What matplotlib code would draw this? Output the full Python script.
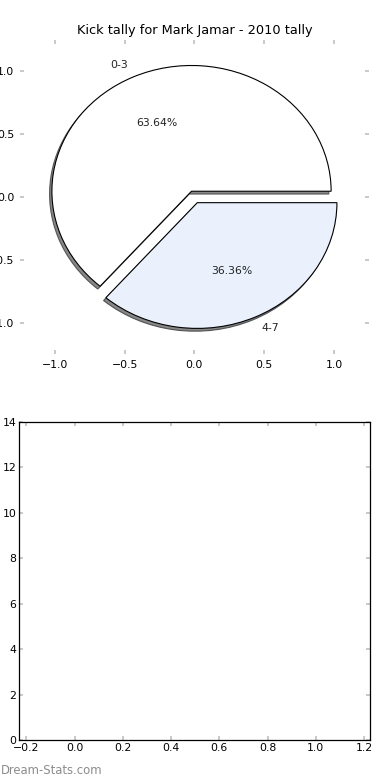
import matplotlib
matplotlib.use("Agg")
import matplotlib.pyplot as plt

# data
labels = ["0-3", "4-7"]
counts = [7, 4]          # 63.64% / 36.36%
colors = ["#ffffff", "#eaf0fc"]
explode = [0.05, 0.05]

TICK_GRAY = "#c0c0c0"

fig = plt.figure(figsize=(3.9, 7.8), dpi=100)

# --- pie (old-style: no equal aspect, frame off, limits +-1.25)
ax1 = fig.add_axes([0.051, 0.546, 0.895, 0.403])
wedges, texts, autotexts = ax1.pie(
    counts, labels=labels, colors=colors, explode=explode,
    autopct="%.2f%%", startangle=0,
    shadow=dict(ox=-0.012, oy=-0.016, facecolor="#7a7a7a", alpha=0.9),
    wedgeprops=dict(edgecolor="black", linewidth=0.8),
    textprops=dict(fontsize=7.8, color="#222222"),
    frame=True,
)
ax1.set_aspect("auto")
ax1.set_xlim(-1.25, 1.25)
ax1.set_ylim(-1.25, 1.25)
ax1.set_xticks([-1.0, -0.5, 0.0, 0.5, 1.0])
ax1.set_yticks([-1.0, -0.5, 0.0, 0.5, 1.0])
for s in ax1.spines.values():
    s.set_visible(False)
ax1.tick_params(direction="in", length=3, width=1.2, color=TICK_GRAY,
                labelsize=7.8, top=True, right=True, pad=4)
ax1.set_title("Kick tally for Mark Jamar - 2010 tally", fontsize=9.3, pad=4)

# --- empty second axes
ax2 = fig.add_axes([0.049, 0.051, 0.9, 0.408])
ax2.set_xlim(-0.23, 1.225)
ax2.set_ylim(0, 14)
ax2.set_xticks([-0.2, 0.0, 0.2, 0.4, 0.6, 0.8, 1.0, 1.2])
ax2.set_yticks([0, 2, 4, 6, 8, 10, 12, 14])
ax2.tick_params(direction="in", length=3, width=1.2, color=TICK_GRAY,
                labelsize=7.8, top=True, right=True, pad=2)
for s in ax2.spines.values():
    s.set_linewidth(0.9)

fig.text(0.002, 0.004, "Dream-Stats.com", fontsize=8.4, color="#8c8c8c",
         ha="left", va="bottom")

fig.savefig("out.png", dpi=100)
